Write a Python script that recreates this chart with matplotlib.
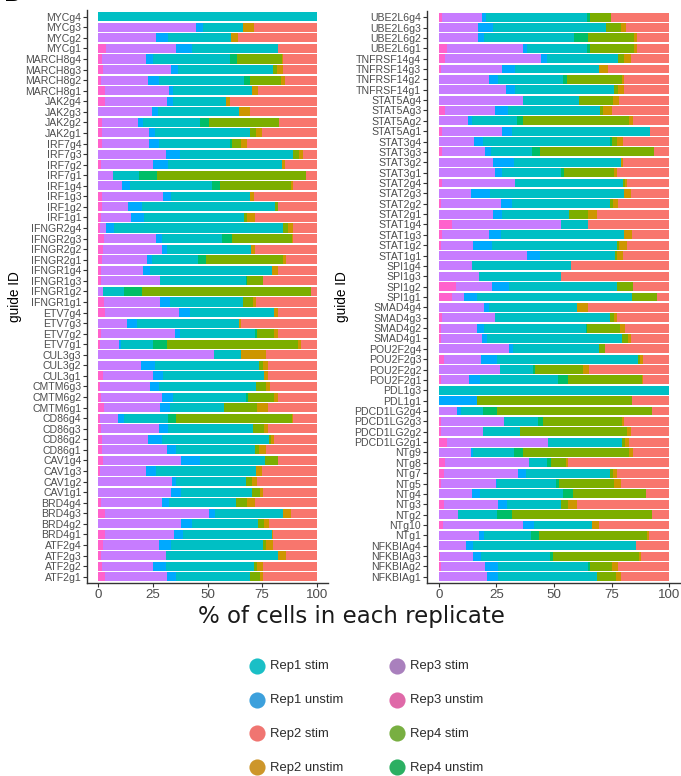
import numpy as np
import matplotlib
matplotlib.use("Agg")
import matplotlib.pyplot as plt

# guide IDs, top to bottom
left_guides = ["MYCg4", "MYCg3", "MYCg2", "MYCg1",
               "MARCH8g4", "MARCH8g3", "MARCH8g2", "MARCH8g1",
               "JAK2g4", "JAK2g3", "JAK2g2", "JAK2g1",
               "IRF7g4", "IRF7g3", "IRF7g2", "IRF7g1",
               "IRF1g4", "IRF1g3", "IRF1g2", "IRF1g1",
               "IFNGR2g4", "IFNGR2g3", "IFNGR2g2", "IFNGR2g1",
               "IFNGR1g4", "IFNGR1g3", "IFNGR1g2", "IFNGR1g1",
               "ETV7g4", "ETV7g3", "ETV7g2", "ETV7g1",
               "CUL3g3", "CUL3g2", "CUL3g1",
               "CMTM6g3", "CMTM6g2", "CMTM6g1",
               "CD86g4", "CD86g3", "CD86g2", "CD86g1",
               "CAV1g4", "CAV1g3", "CAV1g2", "CAV1g1",
               "BRD4g4", "BRD4g3", "BRD4g2", "BRD4g1",
               "ATF2g4", "ATF2g3", "ATF2g2", "ATF2g1"]

right_guides = ["UBE2L6g4", "UBE2L6g3", "UBE2L6g2", "UBE2L6g1",
                "TNFRSF14g4", "TNFRSF14g3", "TNFRSF14g2", "TNFRSF14g1",
                "STAT5Ag4", "STAT5Ag3", "STAT5Ag2", "STAT5Ag1",
                "STAT3g4", "STAT3g3", "STAT3g2", "STAT3g1",
                "STAT2g4", "STAT2g3", "STAT2g2", "STAT2g1",
                "STAT1g4", "STAT1g3", "STAT1g2", "STAT1g1",
                "SPI1g4", "SPI1g3", "SPI1g2", "SPI1g1",
                "SMAD4g4", "SMAD4g3", "SMAD4g2", "SMAD4g1",
                "POU2F2g4", "POU2F2g3", "POU2F2g2", "POU2F2g1",
                "PDL1g3", "PDL1g1",
                "PDCD1LG2g4", "PDCD1LG2g3", "PDCD1LG2g2", "PDCD1LG2g1",
                "NTg9", "NTg8", "NTg7", "NTg5", "NTg4", "NTg3", "NTg2", "NTg10", "NTg1",
                "NFKBIAg4", "NFKBIAg3", "NFKBIAg2", "NFKBIAg1"]

# % of cells per replicate, left panel
left_rep3_unstim = [0, 0, 0, 3.5, 1.5, 2.0, 1.2, 3.1, 3.1, 0, 1.8, 1.5,
                    1.5, 0, 1.2, 0, 0, 1.5, 1.5, 1.2,
                    0.8, 2.7, 2.3, 1.5, 1.1, 1.2, 0, 2.6,
                    3.1, 0, 1.2, 0.8,
                    0, 0, 2.0,
                    0.8, 1.1, 2.6,
                    0.8, 1.2, 1.5, 1.8,
                    2.0, 0.8, 0, 0,
                    1.1, 3.1, 0, 3.1,
                    2.3, 1.1, 1.8, 3.1]
left_rep3_stim = [0, 44.7, 26.4, 32.1, 20.2, 31.3, 21.4, 29.4, 28.5, 24.4, 16.2, 21.7,
                  21.7, 31.0, 24.0, 6.9, 11.0, 28.3, 12.2, 13.8,
                  2.7, 23.7, 27.0, 20.6, 19.5, 27.0, 2.3, 25.6,
                  34.0, 13.0, 33.9, 8.8,
                  53.0, 19.4, 23.2,
                  22.9, 27.9, 25.6,
                  8.4, 26.6, 21.4, 29.8,
                  35.7, 20.9, 33.6, 33.1,
                  28.2, 47.7, 37.9, 31.7,
                  25.5, 29.9, 23.4, 28.5]
left_rep1_unstim = [0, 3.1, 5.7, 7.1, 3.5, 3.0, 5.2, 1.9, 2.4, 3.1, 2.6, 2.8,
                    4.6, 6.4, 6.9, 0, 3.5, 3.5, 6.1, 6.1,
                    3.8, 2.9, 2.3, 2.3, 3.1, 0, 0, 4.6,
                    4.9, 4.6, 2.3, 0.8,
                    0, 6.6, 4.6,
                    4.1, 5.0, 4.6,
                    2.6, 4.0, 6.1, 3.8,
                    8.9, 4.7, 1.8, 4.6,
                    3.1, 2.6, 5.2, 3.8,
                    5.5, 0, 5.8, 3.8]
left_rep1_stim = [100, 18.3, 28.5, 39.4, 35.1, 43.5, 39.1, 35.8, 24.3, 36.9, 26.0, 43.5,
                  32.5, 51.9, 51.9, 11.9, 37.7, 36.2, 61.1, 45.8,
                  77.4, 27.5, 38.2, 21.4, 56.0, 39.3, 9.6, 33.6,
                  38.5, 46.8, 34.4, 14.5,
                  12.2, 47.7, 46.1,
                  44.3, 33.5, 24.9,
                  20.3, 39.2, 49.3, 36.4,
                  29.7, 45.8, 32.1, 32.5,
                  30.7, 31.3, 29.9, 40.8,
                  42.3, 51.1, 40.5, 34.1]
left_rep4_unstim = [0, 0, 0, 0, 3.1, 0, 2.6, 0, 0, 0, 4.1, 0,
                    1.1, 0, 0, 7.9, 3.5, 0, 0, 0,
                    0, 4.6, 0, 3.5, 0, 0.7, 8.3, 0,
                    0, 0, 0.7, 6.4,
                    0, 0, 0,
                    0, 1.2, 0,
                    3.5, 0, 0, 0,
                    0, 0, 0, 0,
                    0, 0, 0, 0,
                    0, 0, 0, 0]
left_rep4_stim = [0, 0, 0, 0, 20.6, 1.9, 14.2, 0, 0, 0, 32.2, 2.7,
                  3.8, 2.6, 0, 68.3, 32.5, 0, 1.2, 1.0,
                  2.3, 27.5, 0, 35.1, 0, 7.1, 77.2, 4.6,
                  0, 0, 8.1, 60.3,
                  0, 1.9, 0,
                  4.5, 11.9, 14.8,
                  52.9, 4.9, 0.6, 1.9,
                  6.1, 0, 3.0, 3.8,
                  5.1, 0, 2.9, 0,
                  1.0, 0, 1.0, 4.5]
left_rep2_unstim = [0, 5.4, 3.5, 0, 0.5, 3.0, 1.8, 2.8, 2.0, 5.1, 0, 2.6,
                    3.0, 2.0, 1.5, 0, 1.1, 2.0, 0, 3.9,
                    2.3, 0.4, 2.0, 1.4, 2.7, 0, 0, 1.1,
                    1.9, 0.9, 1.5, 1.1,
                    11.4, 2.0, 1.7,
                    2.0, 1.5, 5.1,
                    0.8, 1.7, 1.6, 2.9,
                    0, 2.6, 2.0, 1.6,
                    3.6, 3.4, 2.4, 0.8,
                    3.6, 3.7, 3.1, 1.6]
left_rep2_stim = [0, 28.5, 35.9, 17.9, 15.5, 15.3, 14.5, 27.0, 39.7, 30.5, 17.1, 25.2,
                  31.8, 6.1, 14.5, 5.0, 10.7, 28.5, 17.9, 28.2,
                  10.7, 10.7, 28.2, 14.2, 17.6, 24.7, 2.6, 27.9,
                  17.6, 34.7, 17.9, 7.3,
                  23.4, 22.4, 22.4,
                  21.4, 17.9, 22.4,
                  10.7, 22.4, 19.5, 23.4,
                  17.6, 25.2, 27.5, 24.4,
                  28.2, 11.9, 21.7, 19.8,
                  19.8, 14.2, 24.4, 24.4]

# % of cells per replicate, right panel
right_rep3_unstim = [1.3, 0, 0, 3.5, 2.7, 0.9, 0, 0, 0, 2.7, 0, 1.3,
                     0, 1.3, 0, 0, 1.3, 0, 1.0, 0, 5.6, 1.3, 0.9, 0,
                     0, 0, 7.4, 5.9, 0, 1.3, 1.0, 1.0, 0, 2.5, 0, 0.9,
                     0, 0,
                     0, 0.9, 0.9, 3.8,
                     0, 2.7, 2.3, 0.9, 0, 2.5, 0, 2.0, 0,
                     0, 0.6, 0.9, 0]
right_rep3_stim = [17.3, 17.2, 16.9, 33.2, 41.7, 26.4, 21.8, 29.0, 36.4, 21.7, 12.6, 26.0,
                   15.5, 18.8, 23.7, 24.4, 31.8, 14.0, 25.9, 23.7, 47.3, 20.7, 14.1, 38.4,
                   14.6, 17.5, 15.9, 5.1, 19.7, 23.1, 15.5, 17.6, 30.5, 15.7, 26.6, 12.3,
                   0, 0,
                   7.8, 27.4, 18.5, 43.5,
                   14.0, 36.5, 32.2, 23.8, 14.6, 23.4, 8.5, 34.7, 17.5,
                   11.7, 14.4, 19.2, 20.8]
right_rep1_unstim = [1.8, 6.2, 2.8, 1.7, 2.7, 5.8, 3.8, 4.1, 0, 5.5, 1.7, 4.3,
                     3.9, 2.6, 9.1, 2.9, 0, 8.3, 4.7, 3.6, 0, 4.9, 8.0, 5.5,
                     0, 0, 7.2, 5.8, 2.1, 0, 3.2, 2.2, 1.6, 6.9, 0, 4.7,
                     0, 16.8,
                     1.9, 0, 0, 0,
                     0.7, 0, 3.4, 0.7, 3.3, 3.6, 0, 4.6, 2.2,
                     3.3, 3.2, 5.5, 5.1]
right_rep1_stim = [44.1, 49.1, 39.0, 25.8, 30.8, 36.6, 28.2, 42.9, 24.6, 40.0, 19.5, 60.0,
                   54.9, 17.6, 46.2, 25.7, 47.0, 58.0, 42.7, 29.2, 12.0, 53.4, 54.5, 32.5,
                   42.6, 35.4, 46.7, 66.9, 38.3, 49.9, 44.0, 58.5, 37.6, 61.2, 14.4, 33.7,
                   100, 0,
                   9.7, 14.9, 15.9, 32.0,
                   18.0, 7.6, 36.4, 25.5, 36.1, 23.5, 16.6, 25.3, 20.2,
                   70.4, 30.1, 39.0, 42.9]
right_rep4_unstim = [1.1, 0, 6.2, 1.4, 0, 0, 1.7, 0, 0, 0, 2.9, 0,
                     1.0, 3.6, 0, 1.3, 0, 0, 0, 0, 0, 0, 0, 0,
                     0, 0, 0, 0, 0, 0, 0.5, 0, 0, 0, 0.8, 4.3,
                     0, 0,
                     6.0, 1.9, 0, 0,
                     3.7, 1.8, 0, 1.4, 4.4, 0, 6.5, 0, 3.7,
                     0, 1.4, 1.0, 0]
right_rep4_stim = [9.0, 6.5, 19.9, 19.1, 2.4, 0, 23.8, 1.6, 14.4, 1.5, 46.0, 0,
                   1.9, 49.5, 0, 21.7, 0.7, 0, 1.1, 8.1, 0, 0, 0.7, 0.8,
                   0, 0, 7.2, 10.8, 0, 1.7, 14.4, 2.6, 2.4, 1.0, 20.6, 32.1,
                   0, 66.9,
                   67.2, 34.2, 46.2, 1.5,
                   46.3, 6.5, 1.1, 23.9, 31.3, 3.2, 60.7, 0, 46.9,
                   0, 37.1, 9.7, 8.1]
right_rep2_unstim = [0, 2.1, 1.0, 1.1, 3.1, 3.6, 1.0, 2.7, 2.9, 3.6, 1.4, 0,
                     2.6, 0, 0.8, 1.5, 1.0, 2.9, 2.5, 3.9, 0, 3.4, 3.3, 2.9,
                     0, 0, 0, 0, 4.8, 1.5, 2.2, 1.5, 0, 1.1, 2.8, 0.7,
                     0, 0,
                     0, 1.0, 1.9, 1.7,
                     1.4, 1.1, 1.8, 2.7, 0, 3.9, 0, 2.9, 0.7,
                     0, 0.8, 2.6, 2.0]
right_rep2_stim = [25.4, 18.9, 14.2, 14.2, 16.6, 26.7, 19.7, 19.7, 21.7, 25.0, 15.9, 8.4,
                   20.2, 6.6, 20.2, 22.5, 18.2, 16.8, 22.1, 31.5, 35.1, 16.3, 18.5, 19.9,
                   42.8, 47.1, 15.6, 5.5, 35.1, 22.5, 19.2, 16.6, 27.9, 11.6, 34.8, 11.3,
                   0, 16.3,
                   7.4, 19.7, 16.6, 17.5,
                   15.9, 43.8, 22.8, 21.1, 10.3, 39.9, 7.7, 30.5, 8.8,
                   14.6, 12.4, 22.1, 21.1]

# stacking order, left to right
stack_names = ["Rep3 unstim", "Rep3 stim", "Rep1 unstim", "Rep1 stim",
               "Rep4 unstim", "Rep4 stim", "Rep2 unstim", "Rep2 stim"]
bar_colors = {"Rep1 stim": "#00BFC4", "Rep1 unstim": "#00A9FF",
              "Rep2 stim": "#F8766D", "Rep2 unstim": "#CD9600",
              "Rep3 stim": "#C77CFF", "Rep3 unstim": "#FF61CC",
              "Rep4 stim": "#7CAE00", "Rep4 unstim": "#00BE67"}
legend_colors = {"Rep1 stim": "#1ABFC6", "Rep1 unstim": "#3CA0DC",
                 "Rep2 stim": "#F07571", "Rep2 unstim": "#CD962A",
                 "Rep3 stim": "#A980BD", "Rep3 unstim": "#DF69A8",
                 "Rep4 stim": "#78AF41", "Rep4 unstim": "#2BAF62"}

left_series = [left_rep3_unstim, left_rep3_stim, left_rep1_unstim, left_rep1_stim,
               left_rep4_unstim, left_rep4_stim, left_rep2_unstim, left_rep2_stim]
right_series = [right_rep3_unstim, right_rep3_stim, right_rep1_unstim, right_rep1_stim,
                right_rep4_unstim, right_rep4_stim, right_rep2_unstim, right_rep2_stim]

W, H = 681, 776
fig = plt.figure(figsize=(W / 100, H / 100), dpi=100)

axis_grey = "#333333"


def draw_panel(ax, guides, series):
    n = len(guides)
    y = np.arange(n)
    left = np.zeros(n)
    for name, vals in zip(stack_names, series):
        vals = np.array(vals, dtype=float)
        ax.barh(y, vals, left=left, height=0.86, color=bar_colors[name],
                linewidth=0)
        left += vals
    ax.set_ylim(n - 1 + 0.6, -0.6)
    ax.set_xlim(-5, 105)
    ax.set_xticks([0, 25, 50, 75, 100])
    ax.set_yticks(y)
    ax.set_yticklabels(guides, fontfamily="Liberation Sans", fontsize=7.6,
                       color="#4D4D4D")
    for lab in ax.get_xticklabels():
        lab.set_fontfamily("Liberation Sans")
        lab.set_fontsize(9.6)
        lab.set_color("#4D4D4D")
    for s in ["top", "right"]:
        ax.spines[s].set_visible(False)
    for s in ["left", "bottom"]:
        ax.spines[s].set_color(axis_grey)
        ax.spines[s].set_linewidth(1.0)
    ax.tick_params(axis="both", length=2.8, width=0.8, color=axis_grey, pad=1.5)
    ax.set_ylabel("guide ID", fontfamily="Liberation Sans", fontsize=9.8,
                  color="black")


ax1 = fig.add_axes([87.4 / W, 1 - 583 / H, 240.2 / W, 572.6 / H])
draw_panel(ax1, left_guides, left_series)
ax1.yaxis.set_label_coords((22 - 87.4) / 240.2, 0.5)

ax2 = fig.add_axes([427.2 / W, 1 - 583 / H, 253.6 / W, 572.0 / H])
draw_panel(ax2, right_guides, right_series)
ax2.yaxis.set_label_coords((349 - 427.2) / 253.6, 0.5)

# shared x label
fig.text(351 / W, 1 - 616 / H, "% of cells in each replicate",
         ha="center", va="center", fontfamily="DejaVu Sans", fontsize=16.5,
         color="#1a1a1a")

# panel letter, clipped at the top edge
fig.text(4 / W, 1 - 5 / H, "B", ha="left", va="bottom", fontsize=16,
         fontweight="bold", fontfamily="DejaVu Sans", color="black")

# legend: two columns of round keys
leg = fig.add_axes([0, 0, 1, 1])
leg.set_xlim(0, W)
leg.set_ylim(H, 0)
leg.axis("off")
leg.patch.set_alpha(0)
legend_cols = [["Rep1 stim", "Rep1 unstim", "Rep2 stim", "Rep2 unstim"],
               ["Rep3 stim", "Rep3 unstim", "Rep4 stim", "Rep4 unstim"]]
col_x = [257.3, 397.3]
row_y = [665.7, 699.5, 733.3, 767.0]
for cx, names in zip(col_x, legend_cols):
    for ry, name in zip(row_y, names):
        leg.scatter([cx], [ry], s=135, color=legend_colors[name], linewidths=0)
        leg.text(cx + 13, ry + 0.5, name, ha="left", va="center",
                 fontfamily="Liberation Sans", fontsize=9.4, color="#2b2b2b")

fig.savefig("out.png", dpi=100)
